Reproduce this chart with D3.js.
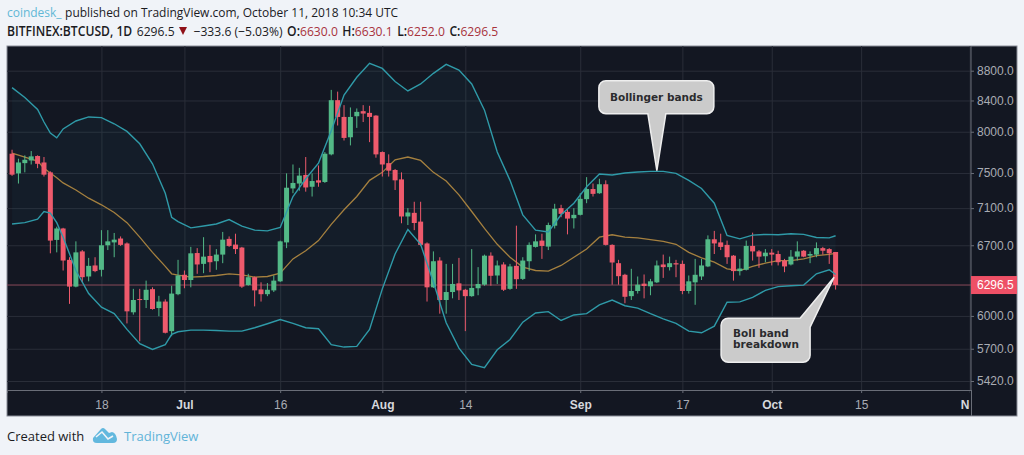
<!DOCTYPE html>
<html>
<head>
<meta charset="utf-8">
<script src="https://cdnjs.cloudflare.com/ajax/libs/d3/7.8.5/d3.min.js"></script>
<style>
  html, body { margin: 0; padding: 0; background: #f0f3f8; overflow: hidden; }
  svg { display: block; }
  .price text { font-family: "Liberation Sans", Arial, sans-serif; font-size: 12px; fill: #a9acb4; }
  .time text { font-family: "Liberation Sans", Arial, sans-serif; font-size: 12px; fill: #a9acb4; }
  .head { font-family: "Open Sans", sans-serif; font-size: 13.5px; fill: #1b1b1f; }
  .foot { font-family: "Open Sans", sans-serif; font-size: 13px; fill: #1b1b1f; }
  .note { font-family: "DejaVu Sans", sans-serif; font-size: 10.5px; font-weight: bold; fill: #2b2b2e; }
</style>
</head>
<body>
<div id="chart"></div>
<script>
// daily candles, 4 Jun 2018 to 11 Oct 2018, one entry per day
var firstDay = Date.UTC(2018, 5, 4);

var opens = [7730,7496,7617,7649,7702,7625,7508,6756,6878,6549,6281,6636,6381,6492,6448,6700,6730,6771,6719,6034,
  6160,6151,6256,6074,6136,5859,6207,6398,6346,6619,6508,6589,6535,6603,6767,6707,6676,6296,6374,6253,
  6207,6244,6333,6730,7322,7378,7478,7341,7415,7396,7722,8404,8187,7931,8196,8261,8239,8204,7750,7617,
  7536,7426,7008,7048,6952,6719,6274,6542,6151,6228,6313,6250,6188,6265,6300,6592,6391,6502,6259,6488,
  6357,6535,6683,6749,6686,6908,7100,7059,6989,7026,7200,7315,7267,7370,6704,6515,6398,6188,6238,6310,
  6284,6323,6502,6475,6515,6508,6238,6323,6381,6482,6763,6730,6704,6592,6435,6448,6693,6636,6586,6623,
  6609,6542,6502,6582,6643,6592,6603,6670,6660,6630.0];
var highs = [7778,7670,7710,7762,7710,7690,7520,6897,6885,6576,6741,6650,6569,6576,6860,6860,6830,6793,6730,6259,
  6259,6340,6274,6191,6157,6290,6549,6441,6683,6670,6785,6704,6660,6841,6793,6822,6683,6408,6381,6323,
  6316,6391,6749,7496,7601,7561,7690,7496,7589,7750,8540,8517,8339,8309,8296,8339,8330,8209,7758,7722,
  7548,7508,7100,7171,7171,6730,6636,6576,6508,6508,6569,6259,6660,6475,6603,6626,6542,6525,6508,6908,
  6576,6730,6815,6822,6941,7148,7137,7089,7100,7267,7452,7378,7433,7415,6710,6549,6408,6458,6381,6401,
  6357,6542,6603,6582,6549,6542,6391,6559,6559,6804,6852,6822,6749,6599,6559,6749,6833,6650,6660,6660,
  6643,6559,6650,6741,6650,6636,6730,6683,6670,6630.1];
var lows = [7467,7378,7508,7601,7557,7459,6616,6626,6441,6114,6274,6323,6333,6424,6381,6650,6576,6693,5930,6012,
  5767,6074,6059,5997,5838,5813,6197,6265,6274,6408,6414,6424,6448,6515,6683,6609,6268,6290,6090,6136,
  6188,6228,6326,6670,7267,7296,7285,7230,7341,7385,7710,8078,7891,7831,8048,8122,7871,7682,7459,7459,
  7304,6934,6915,6860,6693,6136,6268,6021,6021,6167,6151,5859,6182,6197,6290,6290,6307,6238,6250,6259,
  6346,6435,6676,6559,6650,6878,7000,6815,6878,7019,7155,7230,7260,6697,6300,6300,6120,6151,6213,6167,
  6197,6316,6367,6441,6374,6207,6213,6105,6346,6475,6609,6650,6508,6340,6391,6441,6542,6468,6525,6492,
  6492,6424,6492,6542,6576,6515,6576,6603,6508,6252.0];
var closes = [7481,7625,7657,7698,7609,7481,6749,6878,6542,6281,6626,6374,6488,6435,6700,6741,6759,6704,6043,6151,
  6151,6250,6065,6136,5844,6213,6391,6346,6616,6502,6582,6525,6603,6759,6693,6660,6281,6374,6244,6207,
  6250,6340,6741,7330,7385,7470,7333,7407,7389,7730,8404,8187,7923,8187,8252,8230,8187,7722,7601,7528,
  7415,7008,7052,6937,6704,6274,6535,6151,6228,6307,6244,6188,6268,6307,6592,6388,6492,6250,6482,6354,
  6542,6704,6741,6693,6915,7093,7037,6985,7026,7204,7315,7260,7370,6704,6522,6384,6182,6238,6300,6287,
  6333,6492,6475,6515,6502,6238,6333,6398,6492,6763,6719,6683,6576,6435,6461,6693,6636,6582,6623,6603,
  6525,6482,6582,6636,6582,6609,6670,6643,6616,6296.5];

// bollinger bands read every second day, more often at the kinks, plus the last day
var bandDays = [0,2,4,5,6,7,8,10,12,14,16,18,20,22,24,25,26,28,30,32,34,36,38,40,42,44,46,48,50,52,54,56,58,60,62,64,
  66,68,70,72,74,76,78,80,82,84,86,88,90,92,94,96,98,100,102,104,106,108,110,112,114,116,118,120,122,124,126,128,129];
var upperBand = [8571,8440,8283,8122,7984,7924,8035,8135,8187,8178,8100,8004,7851,7609,7267,7000,6952,6885,6904,6926,6974,6904,6860,
  6852,6889,7230,7433,7617,8013,8472,8710,8901,8831,8652,8526,8620,8764,8887,8809,8620,8274,7750,7415,
  7026,6860,6841,7026,7155,7341,7489,7478,7500,7512,7520,7520,7496,7415,7322,7155,6804,6767,6807,6815,
  6811,6822,6815,6782,6778,6800];
var middleBand = [7738,7690,7641,7557,7500,7445,7385,7304,7211,7137,7052,6941,6785,6626,6482,6408,6394,6374,6381,6391,6408,6398,6374,
  6381,6414,6559,6643,6749,6922,7082,7230,7415,7508,7657,7690,7649,7508,7407,7248,7063,6878,6710,6576,
  6475,6441,6435,6492,6576,6660,6785,6811,6785,6778,6759,6741,6710,6626,6569,6525,6458,6441,6482,6515,
  6542,6542,6559,6592,6606,6616];
var lowerBand = [6926,6941,6978,7063,7045,6941,6785,6441,6213,6083,6021,5875,5746,5694,5737,5829,5853,5868,5868,5865,5859,5859,5890,
  5927,5966,5930,5890,5881,5737,5715,5721,5875,6259,6609,6867,6710,6323,5936,5706,5563,5534,5691,5783,
  5942,6028,6040,5957,6009,6021,6105,6151,6096,6074,6021,5972,5930,5859,5844,5905,6130,6133,6176,6244,
  6281,6290,6296,6408,6448,6401];

var priceTicks = [8800, 8400, 8000, 7500, 7100, 6700, 6000, 5700, 5420];
var lastPrice = 6296.5;
var dateTicks = [
  [Date.UTC(2018, 5, 18), "18", false],
  [Date.UTC(2018, 6, 1), "Jul", true],
  [Date.UTC(2018, 6, 16), "16", false],
  [Date.UTC(2018, 7, 1), "Aug", true],
  [Date.UTC(2018, 7, 14), "14", false],
  [Date.UTC(2018, 8, 1), "Sep", true],
  [Date.UTC(2018, 8, 17), "17", false],
  [Date.UTC(2018, 9, 1), "Oct", true],
  [Date.UTC(2018, 9, 15), "15", false],
  [Date.UTC(2018, 10, 1), "Nov", true]
];

var svgWidth = 1024;
var svgHeight = 455;
var panel = { left: 7, right: 1017, top: 46, bottom: 416 };
var plotRight = 971;
var plotBottom = 390;

var dayOf = function(i) { return new Date(firstDay + i * 864e5); };

var candles = opens.map(function(o, i) {
  return { date: dayOf(i), open: o, high: highs[i], low: lows[i], close: closes[i] };
});
var bands = bandDays.map(function(d, i) {
  return { date: dayOf(d), upper: upperBand[i], middle: middleBand[i], lower: lowerBand[i] };
});

var x = d3.scaleUtc()
  .domain([Date.UTC(2018, 5, 3, 5), Date.UTC(2018, 10, 1, 5)])
  .range([panel.left, plotRight]);
var y = d3.scaleLog()
  .domain([8800, 5420])
  .range([70.7, 381]);

var svg = d3.select("#chart").append("svg")
  .attr("width", svgWidth)
  .attr("height", svgHeight);

var defs = svg.append("defs");
defs.append("clipPath").attr("id", "plot").append("rect")
  .attr("x", panel.left).attr("y", panel.top)
  .attr("width", plotRight - panel.left).attr("height", plotBottom - panel.top);
defs.append("clipPath").attr("id", "timeClip").append("rect")
  .attr("x", panel.left).attr("y", 0)
  .attr("width", 969.5 - panel.left).attr("height", panel.bottom - plotBottom);

// header
var head1 = svg.append("text").attr("class", "head")
  .attr("transform", "translate(7,17) scale(0.887,1)");
head1.append("tspan").style("fill", "#62b8d6").text("coindesk_");
head1.append("tspan").attr("dx", 4).text("published on TradingView.com, October 11, 2018 10:34 UTC");

var head2 = svg.append("text").attr("class", "head")
  .attr("transform", "translate(7,36) scale(0.899,1)");
head2.append("tspan").attr("font-weight", 600).text("BITFINEX:BTCUSD, 1D");
head2.append("tspan").attr("dx", 5).text("6296.5");
var headRed = "#a8323c";
head2.append("tspan").attr("dx", 21).text("−333.6 (−5.03%)");
[["O:", "6630.0"], ["H:", "6630.1"], ["L:", "6252.0"], ["C:", "6296.5"]].forEach(function(p) {
  head2.append("tspan").attr("dx", 5).attr("font-weight", 600).text(p[0]);
  head2.append("tspan").style("fill", headRed).text(p[1]);
});
// down arrow next to the change
svg.append("path")
  .attr("fill", "#8f1018")
  .attr("d", "M179,27 L187,27 L183,35 Z");

// panel
svg.append("rect")
  .attr("x", panel.left).attr("y", panel.top)
  .attr("width", panel.right - panel.left).attr("height", panel.bottom - panel.top)
  .attr("fill", "#131722")
  .attr("stroke", "#8a8e98")
  .attr("stroke-width", 1);

// grid
var gridColor = "#2a2e39";
var xGrid = d3.axisBottom(x)
  .tickValues(dateTicks.map(function(d) { return new Date(d[0]); }))
  .tickSize(plotBottom - panel.top)
  .tickFormat("");
svg.append("g")
  .attr("transform", "translate(0," + panel.top + ")")
  .call(xGrid)
  .call(function(g) { g.select(".domain").remove(); })
  .selectAll("line").attr("stroke", gridColor);

var yGrid = d3.axisRight(y)
  .tickValues(priceTicks)
  .tickSize(plotRight - panel.left)
  .tickFormat("");
svg.append("g")
  .attr("transform", "translate(" + panel.left + ",0)")
  .call(yGrid)
  .call(function(g) { g.select(".domain").remove(); })
  .selectAll("line").attr("stroke", gridColor);

// band fill and lines
var plot = svg.append("g").attr("clip-path", "url(#plot)");
plot.append("path")
  .datum(bands)
  .attr("fill", "#2a9aa8")
  .attr("fill-opacity", 0.05)
  .attr("d", d3.area()
    .x(function(d) { return x(d.date); })
    .y0(function(d) { return y(d.lower); })
    .y1(function(d) { return y(d.upper); }));

// last price line
plot.append("line")
  .attr("x1", panel.left).attr("x2", plotRight)
  .attr("y1", y(lastPrice)).attr("y2", y(lastPrice))
  .attr("stroke", "#8a4a5a")
  .attr("stroke-width", 1);

var bandLine = function(key) {
  return d3.line()
    .x(function(d) { return x(d.date); })
    .y(function(d) { return y(d[key]); });
};
plot.append("path").datum(bands)
  .attr("fill", "none").attr("stroke", "#a5803f").attr("stroke-width", 1.3)
  .attr("d", bandLine("middle"));

// candles
var upColor = "#53b987";
var downColor = "#ee5a6c";
var candleColor = function(d) { return d.close >= d.open ? upColor : downColor; };
var bodyWidth = 5;

var candleGroup = plot.selectAll(".candle").data(candles).enter().append("g").attr("class", "candle");
candleGroup.append("line")
  .attr("x1", function(d) { return x(d.date); })
  .attr("x2", function(d) { return x(d.date); })
  .attr("y1", function(d) { return y(d.high); })
  .attr("y2", function(d) { return y(d.low); })
  .attr("stroke", candleColor)
  .attr("stroke-width", 1);
candleGroup.append("rect")
  .attr("x", function(d) { return x(d.date) - bodyWidth / 2; })
  .attr("width", bodyWidth)
  .attr("y", function(d) { return y(Math.max(d.open, d.close)); })
  .attr("height", function(d) { return Math.max(1, y(Math.min(d.open, d.close)) - y(Math.max(d.open, d.close))); })
  .attr("fill", candleColor);

plot.append("path").datum(bands)
  .attr("fill", "none").attr("stroke", "#2f9aa8").attr("stroke-width", 1.4)
  .attr("d", bandLine("upper"));
plot.append("path").datum(bands)
  .attr("fill", "none").attr("stroke", "#2f9aa8").attr("stroke-width", 1.4)
  .attr("d", bandLine("lower"));

// time axis
var timeAxis = d3.axisBottom(x)
  .tickValues(dateTicks.map(function(d) { return new Date(d[0]); }))
  .tickSize(3)
  .tickPadding(7)
  .tickFormat(function(d, i) { return dateTicks[i][1]; });
var timeG = svg.append("g")
  .attr("class", "time")
  .attr("transform", "translate(0," + plotBottom + ")")
  .attr("clip-path", "url(#timeClip)")
  .call(timeAxis);
timeG.select(".domain").attr("stroke", "#6a6e78");
timeG.selectAll(".tick line").attr("stroke", "#6a6e78");
timeG.selectAll(".tick text")
  .attr("dx", function(d, i) { return dateTicks[i][1] === "Nov" ? 2 : 0; })
  .style("font-weight", function(d, i) { return dateTicks[i][2] ? "bold" : "normal"; })
  .style("fill", function(d, i) { return dateTicks[i][2] ? "#d6d8dd" : "#a9acb4"; });
svg.append("line")
  .attr("x1", 969).attr("x2", plotRight)
  .attr("y1", plotBottom + 0.5).attr("y2", plotBottom + 0.5)
  .attr("stroke", "#6a6e78");

// price axis
var priceAxis = d3.axisRight(y)
  .tickValues(priceTicks)
  .tickSize(3)
  .tickPadding(3)
  .tickFormat(d3.format(".1f"));
var priceG = svg.append("g")
  .attr("class", "price")
  .attr("transform", "translate(" + plotRight + ",0)")
  .call(priceAxis);
priceG.select(".domain").attr("d", "M0," + panel.top + "V" + plotBottom).attr("stroke", "#6a6e78");
priceG.selectAll(".tick line").attr("stroke", "#6a6e78");
svg.append("line")
  .attr("x1", plotRight + 0.5).attr("x2", plotRight + 0.5)
  .attr("y1", plotBottom).attr("y2", panel.bottom)
  .attr("stroke", "#6a6e78");

// last price tag
svg.append("rect")
  .attr("x", plotRight).attr("y", y(lastPrice) - 9)
  .attr("width", panel.right - plotRight).attr("height", 18)
  .attr("fill", "#ee5066");
svg.append("text")
  .attr("x", plotRight + 6).attr("y", y(lastPrice) + 4)
  .attr("font-family", "Liberation Sans, Arial, sans-serif")
  .attr("font-size", 12)
  .attr("fill", "#ffffff")
  .text(d3.format(".1f")(lastPrice));

// callouts, placed from the point they point at
function calloutPath(pts) {
  var p = d3.path();
  var n = pts.length;
  var mid = function(a, b) { return [(a[0] + b[0]) / 2, (a[1] + b[1]) / 2]; };
  var start = mid(pts[n - 1], pts[0]);
  p.moveTo(start[0], start[1]);
  pts.forEach(function(c, i) {
    var next = pts[(i + 1) % n];
    var m = mid(c, next);
    if (c[2]) p.arcTo(c[0], c[1], m[0], m[1], c[2]); else p.lineTo(c[0], c[1]);
    p.lineTo(m[0], m[1]);
  });
  p.closePath();
  return p.toString();
}

var tip1 = [x(dayOf(101)), y(7528)];
svg.append("path")
  .attr("fill", "#cbcbcb").attr("stroke", "#eeeeee").attr("stroke-width", 1.5)
  .attr("d", calloutPath([
    [tip1[0] - 58, tip1[1] - 90, 7], [tip1[0] + 57, tip1[1] - 90, 7],
    [tip1[0] + 57, tip1[1] - 57, 7], [tip1[0] + 9, tip1[1] - 57],
    [tip1[0], tip1[1]], [tip1[0] - 9, tip1[1] - 57],
    [tip1[0] - 58, tip1[1] - 57, 7]
  ]));
svg.append("text").attr("class", "note")
  .attr("x", tip1[0] - 0.5).attr("y", tip1[1] - 69.5).attr("text-anchor", "middle")
  .text("Bollinger bands");

var tip2 = [x(dayOf(129)) - 1.5, y(6374)];
svg.append("path")
  .attr("fill", "#cbcbcb").attr("stroke", "#eeeeee").attr("stroke-width", 1.5)
  .attr("d", calloutPath([
    [tip2[0] - 113, tip2[1] + 41, 7], [tip2[0] - 34, tip2[1] + 41],
    [tip2[0], tip2[1]], [tip2[0] - 24, tip2[1] + 50],
    [tip2[0] - 24, tip2[1] + 85, 7], [tip2[0] - 113, tip2[1] + 85, 7]
  ]));
svg.append("text").attr("class", "note")
  .attr("x", tip2[0] - 101).attr("y", tip2[1] + 60)
  .text("Boll band");
svg.append("text").attr("class", "note")
  .attr("x", tip2[0] - 101).attr("y", tip2[1] + 71)
  .text("breakdown");

// footer
svg.append("text").attr("class", "foot").attr("x", 7).attr("y", 441).text("Created with");
svg.append("path")
  .attr("fill", "#62b8de")
  .attr("d", "M93,438 L101,429 Q103,427 105,429 L109,433 L112,432 Q116,433 117,439 Q117,443 113,443 L97,443 Q92,443 93,438 Z");
svg.append("path")
  .attr("fill", "none").attr("stroke", "#f0f3f8").attr("stroke-width", 1.6)
  .attr("d", "M96,437 L102,432 L108,439 L113,436");
svg.append("text").attr("class", "foot").attr("x", 124).attr("y", 441)
  .style("fill", "#62b4d8").text("TradingView");
</script>
</body>
</html>
